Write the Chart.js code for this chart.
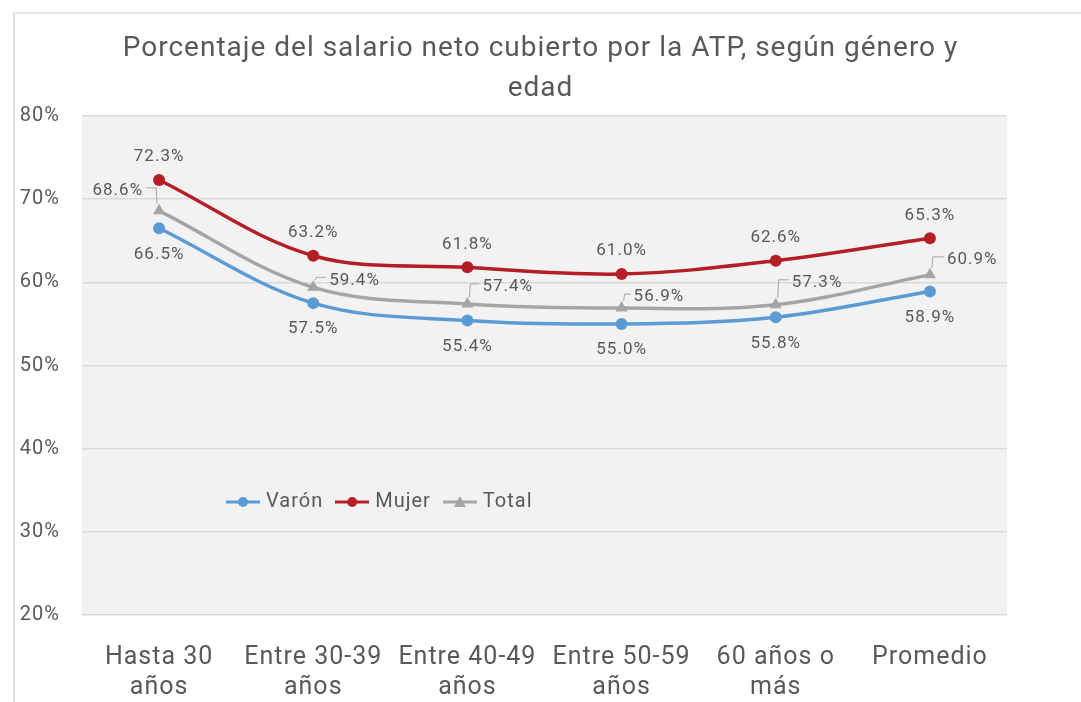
<!DOCTYPE html>
<html lang="es">
<head>
<meta charset="utf-8">
<script src="https://cdn.jsdelivr.net/npm/chart.js@4.4.1/dist/chart.umd.min.js"></script>
<style>
  html, body { margin: 0; padding: 0; background: #fff; }
  #marco { position: absolute; left: 13px; top: 12px; width: 1068px; height: 690px;
           border-left: 2px solid #e0e0e0; border-top: 2px solid #e6e6e6; }
  #grafica { position: absolute; left: 0; top: 0; }
</style>
</head>
<body>
<div id="marco"></div>
<canvas id="grafica" width="1081" height="702"></canvas>
<script>
// datos
const categorias = [['Hasta 30', 'años'], ['Entre 30-39', 'años'], ['Entre 40-49', 'años'],
                    ['Entre 50-59', 'años'], ['60 años o', 'más'], ['Promedio']];
const varon = [66.5, 57.5, 55.4, 55.0, 55.8, 58.9];
const mujer = [72.3, 63.2, 61.8, 61.0, 62.6, 65.3];
const total = [68.6, 59.4, 57.4, 56.9, 57.3, 60.9];
const marcasY = [20, 30, 40, 50, 60, 70, 80];

// donde va cada etiqueta respecto a su punto
const posVaron = [
    { dx: 0, dy: 26 }, { dx: 0, dy: 26 }, { dx: 0, dy: 26 },
    { dx: 0, dy: 26 }, { dx: 0, dy: 26 }, { dx: 0, dy: 26 }
];
const posMujer = [
    { dx: 0, dy: -23 }, { dx: 0, dy: -23 }, { dx: 0, dy: -23 },
    { dx: 0, dy: -23 }, { dx: 0, dy: -23 }, { dx: 0, dy: -23 }
];
const posTotal = [
    { dx: -16, dy: -20, align: 'right', linea: true },
    { dx: 16, dy: -7, align: 'left', linea: true },
    { dx: 15, dy: -17, align: 'left', linea: true },
    { dx: 12, dy: -11, align: 'left', linea: true },
    { dx: 16, dy: -22, align: 'left', linea: true },
    { dx: 17, dy: -15, align: 'left', linea: true }
];

const GRIS_TEXTO = '#595959';
const FUENTE = 'Roboto';
const ESPACIADO = '1px'; // la fuente original es mas abierta

function iconoLeyenda(color, estilo) {
    const c = document.createElement('canvas');
    c.width = 34;
    c.height = 14;
    const g = c.getContext('2d');
    g.strokeStyle = color;
    g.fillStyle = color;
    g.lineWidth = 3;
    g.beginPath();
    g.moveTo(0, 7);
    g.lineTo(34, 7);
    g.stroke();
    g.beginPath();
    if (estilo === 'triangle') {
        g.moveTo(17, 1);
        g.lineTo(23, 12);
        g.lineTo(11, 12);
        g.closePath();
    } else {
        g.arc(17, 7, 5, 0, Math.PI * 2);
    }
    g.fill();
    return c;
}

const fondoArea = {
    id: 'fondoArea',
    beforeUpdate(chart) {
        chart.ctx.letterSpacing = ESPACIADO;
    },
    beforeDraw(chart) {
        const { ctx, chartArea } = chart;
        ctx.letterSpacing = ESPACIADO;
        ctx.save();
        ctx.fillStyle = '#f2f2f2';
        ctx.fillRect(chartArea.left, chartArea.top, chartArea.right - chartArea.left, chartArea.bottom - chartArea.top);
        ctx.restore();
        // la leyenda va dentro del area del grafico, como en el original
        const leyenda = chart.legend;
        if (leyenda) {
            leyenda.top = 476;
            leyenda.bottom = 476 + 46;
            leyenda.left = 214;
        }
    }
};

const etiquetas = {
    id: 'etiquetas',
    afterDatasetsDraw(chart) {
        const ctx = chart.ctx;
        const posiciones = [posVaron, posMujer, posTotal];
        ctx.save();
        ctx.font = '17px ' + FUENTE;
        ctx.fillStyle = GRIS_TEXTO;
        ctx.textBaseline = 'middle';
        chart.data.datasets.forEach((ds, i) => {
            const meta = chart.getDatasetMeta(i);
            meta.data.forEach((pt, j) => {
                const p = posiciones[i][j];
                const tx = pt.x + p.dx;
                const ty = pt.y + p.dy;
                ctx.textAlign = p.align || 'center';
                ctx.fillText(ds.data[j].toFixed(1) + '%', tx, ty);
                if (p.linea) {
                    const lado = p.align === 'right' ? 1 : -1;
                    ctx.save();
                    ctx.strokeStyle = '#a6a6a6';
                    ctx.lineWidth = 1;
                    ctx.beginPath();
                    ctx.moveTo(pt.x - lado * 2, pt.y - 7);
                    ctx.lineTo(pt.x - lado * 3, ty - 3);
                    ctx.lineTo(tx + lado * 3, ty - 3);
                    ctx.stroke();
                    ctx.restore();
                }
            });
        });
        ctx.restore();
    }
};

const series = [
    { label: 'Varón', data: varon, color: '#5b9bd5', estilo: 'circle', radio: 6 },
    { label: 'Mujer', data: mujer, color: '#b41e24', estilo: 'circle', radio: 6 },
    { label: 'Total', data: total, color: '#a5a5a5', estilo: 'triangle', radio: 7 }
];

const grafica = new Chart(document.getElementById('grafica').getContext('2d'), {
    type: 'line',
    data: {
        labels: categorias,
        datasets: series.map(s => ({
            label: s.label,
            data: s.data,
            borderColor: s.color,
            backgroundColor: s.color,
            borderWidth: 3.5,
            pointStyle: s.estilo,
            pointRadius: s.radio,
            pointBackgroundColor: s.color,
            pointBorderColor: s.color,
            pointBorderWidth: 0,
            tension: 0.35,
            fill: false
        }))
    },
    options: {
        responsive: false,
        animation: false,
        events: [],
        layout: { padding: { left: 0, right: 0, top: 0, bottom: 0 } },
        plugins: {
            title: {
                display: true,
                text: ['Porcentaje del salario neto cubierto por la ATP, según género y', 'edad'],
                color: GRIS_TEXTO,
                font: { family: FUENTE, size: 28, weight: 'normal', lineHeight: 40 / 28 },
                padding: { top: 29, bottom: 7 }
            },
            legend: {
                display: true,
                position: 'bottom',
                align: 'start',
                maxHeight: 1,
                labels: {
                    color: GRIS_TEXTO,
                    font: { family: FUENTE, size: 20 },
                    padding: 16,
                    usePointStyle: true,
                    pointStyleWidth: 26,
                    generateLabels(chart) {
                        const items = Chart.defaults.plugins.legend.labels.generateLabels(chart);
                        items.forEach((it, i) => {
                            it.pointStyle = iconoLeyenda(series[i].color, series[i].estilo);
                        });
                        return items;
                    }
                }
            },
            tooltip: { enabled: false }
        },
        scales: {
            x: {
                offset: true,
                grid: { display: false },
                border: { display: false },
                ticks: {
                    color: GRIS_TEXTO,
                    font: { family: FUENTE, size: 25 },
                    padding: 20,
                    maxRotation: 0,
                    autoSkip: false
                },
                afterFit(s) { s.height = 86; }
            },
            y: {
                min: 20,
                max: 80,
                grid: { color: '#d9d9d9', lineWidth: 1.5, drawTicks: false },
                border: { display: false },
                ticks: {
                    color: GRIS_TEXTO,
                    font: { family: FUENTE, size: 20 },
                    padding: 22,
                    callback: v => v + '%'
                },
                afterBuildTicks(s) { s.ticks = marcasY.map(v => ({ value: v })); },
                afterFit(s) { s.width = 82; }
            },
            derecha: {
                position: 'right',
                display: true,
                grid: { display: false },
                border: { display: false },
                ticks: { display: false },
                afterFit(s) { s.width = 74; }
            }
        }
    },
    plugins: [fondoArea, etiquetas]
});
</script>
</body>
</html>
